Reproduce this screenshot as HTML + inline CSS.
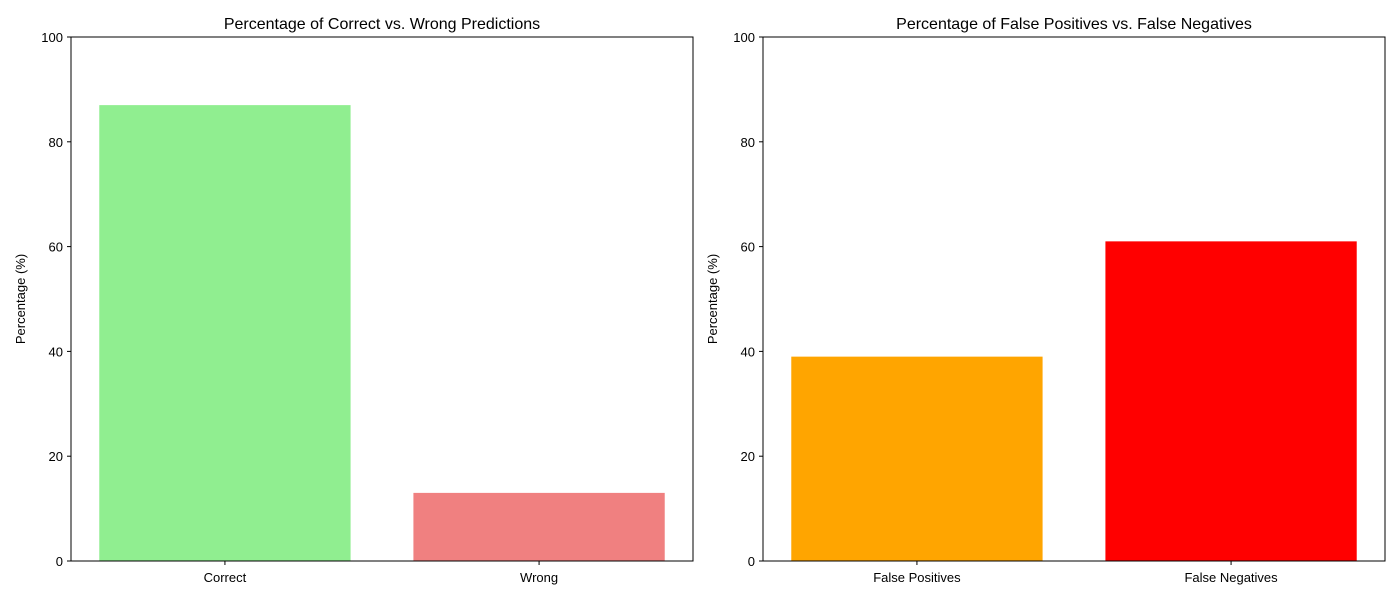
<!DOCTYPE html>
<html><head><meta charset="utf-8"><style>
body{margin:0;background:#fff;}
svg text{font-family:"Liberation Sans","DejaVu Sans",sans-serif;fill:#000;}
</style></head><body>
<svg id="chart" width="1400" height="600" xmlns="http://www.w3.org/2000/svg"></svg>
<script>
const leftCategories = ["Correct", "Wrong"];
const leftValues = [87, 13];
const leftColors = ["#90ee90", "#f08080"];
const rightCategories = ["False Positives", "False Negatives"];
const rightValues = [39, 61];
const rightColors = ["#ffa500", "#ff0000"];
const yTicks = [0, 20, 40, 60, 80, 100];

const svg = document.getElementById('chart');
const NS = 'http://www.w3.org/2000/svg';
function mk(tag, attrs, parent) {
  const e = document.createElementNS(NS, tag);
  for (const k in attrs) e.setAttribute(k, attrs[k]);
  parent.appendChild(e);
  return e;
}
function panel(x0, x1, title, cats, vals, colors, key) {
  const y0 = 37, y1 = 561;
  const g = mk('g', {}, svg);
  
  
  const yScale = v => y1 - (v / 100) * (y1 - y0);
  const xmin = -0.49, xmax = 1.49;
  const xScale = v => x0 + (v - xmin) / (xmax - xmin) * (x1 - x0);
  cats.forEach((c, i) => {
    const bx = xScale(i - 0.4), bw = xScale(i + 0.4) - bx;
    const r = mk('rect', {x: bx, y: yScale(vals[i]), width: bw, height: y1 - yScale(vals[i]), fill: colors[i]}, g);
    
    
    const cx = xScale(i);
    mk('line', {x1: cx, x2: cx, y1: y1, y2: y1 + 4, stroke: '#000', 'stroke-width': 1}, g);
    const t = mk('text', {x: cx, y: y1 + 21, 'text-anchor': 'middle', 'font-size': 13}, g);
    t.textContent = c;
    
    
  });
  yTicks.forEach(v => {
    const y = yScale(v);
    mk('line', {x1: x0 - 4, x2: x0, y1: y, y2: y, stroke: '#000', 'stroke-width': 1}, g);
    const t = mk('text', {x: x0 - 8, y: y + 5, 'text-anchor': 'end', 'font-size': 13}, g);
    t.textContent = v;
    
    
  });
  mk('rect', {x: x0, y: y0, width: x1 - x0, height: y1 - y0, fill: 'none', stroke: '#000', 'stroke-width': 1}, g);
  const tt = mk('text', {x: (x0 + x1) / 2, y: 29, 'text-anchor': 'middle', 'font-size': 16}, g);
  tt.textContent = title;
  
  
  const yl = mk('text', {x: x0 - 46, y: (y0 + y1) / 2, 'text-anchor': 'middle', 'font-size': 13, transform: 'rotate(-90 ' + (x0 - 46) + ' ' + ((y0 + y1) / 2) + ')'}, g);
  yl.textContent = 'Percentage (%)';
  
  
}
panel(71, 693, 'Percentage of Correct vs. Wrong Predictions', leftCategories, leftValues, leftColors, 'left');
panel(763, 1385, 'Percentage of False Positives vs. False Negatives', rightCategories, rightValues, rightColors, 'right');
</script>
</body></html>
